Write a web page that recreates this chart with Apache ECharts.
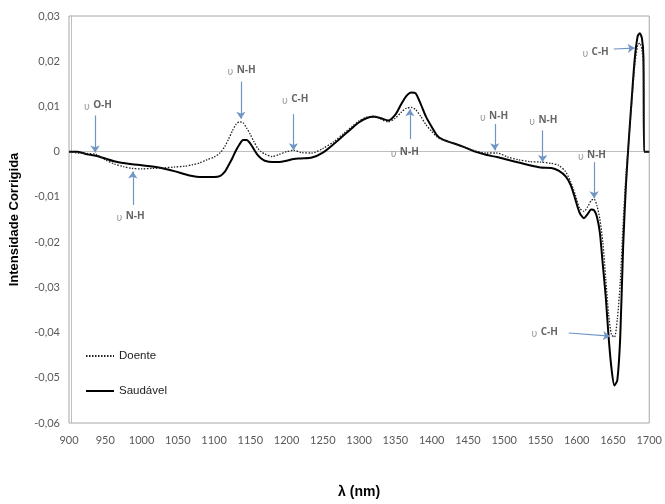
<!DOCTYPE html>
<html>
<head>
<meta charset="utf-8">
<script src="https://cdn.jsdelivr.net/npm/echarts@6/dist/echarts.min.js"></script>
<style>html,body{margin:0;padding:0;background:#fff}#c{width:665px;height:504px}</style>
</head>
<body>
<div id="c"></div>
<script>
// ---- data ----
const wavelengths = [900,912,925,937,950,962,975,987,1000,1015,1030,1045,1060,1070,1080,1090,1100,1108,1115,1120,1125,1130,1135,1140,1145,1150,1155,1160,1165,1170,1180,1190,1200,1210,1220,1235,1250,1265,1280,1290,1300,1310,1320,1330,1340,1350,1358,1365,1372,1378,1385,1392,1400,1408,1415,1425,1435,1445,1460,1475,1490,1505,1520,1535,1550,1565,1575,1585,1592,1598,1604,1610,1615,1620,1624,1628,1632,1636,1640,1644,1648,1652,1656,1660,1664,1668,1672,1676,1680,1684,1687,1690,1692,1693,1696,1700];
const saudavel = [0,0,-0.0006,-0.0009,-0.0015,-0.0021,-0.0025,-0.0028,-0.003,-0.0033,-0.0037,-0.0043,-0.005,-0.0054,-0.0056,-0.0056,-0.0056,-0.0054,-0.0044,-0.003,-0.0015,0.0002,0.0016,0.0026,0.0026,0.0018,0.0005,-0.0007,-0.0015,-0.002,-0.0023,-0.0023,-0.002,-0.0016,-0.0015,-0.0013,-0.0002,0.0017,0.0038,0.0052,0.0065,0.0074,0.0077,0.0074,0.0069,0.0082,0.0105,0.0123,0.0131,0.0129,0.0105,0.0078,0.0055,0.0035,0.0027,0.0021,0.0016,0.001,0,-0.0007,-0.0012,-0.0018,-0.0024,-0.003,-0.0035,-0.0036,-0.0042,-0.0055,-0.0075,-0.0105,-0.0135,-0.0147,-0.0138,-0.0128,-0.013,-0.0145,-0.018,-0.025,-0.032,-0.041,-0.048,-0.0517,-0.0505,-0.041,-0.021,-0.007,0.003,0.012,0.0205,0.0255,0.0262,0.025,0.021,0,0,0];
const doente = [0,-0.0003,-0.0004,-0.0006,-0.0018,-0.0027,-0.0033,-0.0037,-0.0038,-0.0037,-0.0036,-0.0034,-0.0032,-0.0029,-0.0025,-0.0018,-0.0012,-0.0003,0.0012,0.0028,0.0045,0.006,0.0066,0.0064,0.0052,0.0038,0.0022,0.0008,0,-0.0005,-0.0011,-0.0006,0,0.0003,-0.0002,-0.0003,0.0007,0.0022,0.0042,0.0055,0.0068,0.0076,0.0079,0.0072,0.0066,0.0074,0.0087,0.0096,0.0098,0.0093,0.0078,0.006,0.0045,0.0032,0.0026,0.0021,0.0016,0.001,0.0002,-0.0003,-0.0003,-0.0012,-0.0018,-0.0022,-0.0023,-0.0026,-0.003,-0.0045,-0.0068,-0.0095,-0.0125,-0.0132,-0.0122,-0.0108,-0.0105,-0.012,-0.015,-0.02,-0.028,-0.036,-0.0405,-0.041,-0.037,-0.029,-0.016,-0.005,0.003,0.011,0.019,0.0235,0.024,0.0225,0.019,0,0,0];

// annotations (data coordinates)
const annotText  = ['O-H','N-H','N-H','C-H','N-H','N-H','N-H','N-H','C-H','C-H'];
const annotLabel = [[940,0.0103],[985,-0.0142],[1138,0.0180],[1212,0.0117],[1363,0.0000],[1486,0.0079],[1554,0.0070],[1621,-0.0007],[1626,0.0221],[1556,-0.0399]];
const arrowFrom  = [[936,0.0080],[988,-0.0118],[1137,0.0155],[1209.5,0.0083],[1370,0.0028],[1487,0.0061],[1553,0.0047],[1624,-0.0023],[1651,0.0227],[1589,-0.0401]];
const arrowTo    = [[936,-0.0002],[988,-0.0044],[1137,0.0073],[1209.5,0.0003],[1370,0.0094],[1487,0.0003],[1553,-0.0023],[1624,-0.0103],[1680,0.0229],[1646,-0.0408]];

const chart = echarts.init(document.getElementById('c'), null, {renderer:'canvas'});
const tickFont = {color:'#595959', fontSize:11, fontFamily:'Lato, "Open Sans", sans-serif'};

chart.setOption({
  animation:false,
  backgroundColor:'#fff',
  grid:{left:66, right:14, top:16, bottom:78, show:true, borderColor:'#a6a6a6', borderWidth:1, backgroundColor:'transparent'},
  legend:{
    data:['Doente','Saudável'], orient:'vertical', left:80, top:345,
    itemWidth:28, itemHeight:14, itemGap:23,
    itemStyle:{opacity:0},
    textStyle:{color:'#222', fontSize:11.5, fontFamily:'"Liberation Sans", Arial, sans-serif'}
  },
  xAxis:{
    type:'value', min:900, max:1700, interval:50, offset:-2,
    axisLine:{show:true, lineStyle:{color:'#bfbfbf'}}, axisTick:{show:false}, splitLine:{show:false},
    axisLabel:Object.assign({margin:14, formatter:v=>String(Math.round(v))}, tickFont),
    name:'λ (nm)', nameLocation:'middle', nameGap:64,
    nameTextStyle:{color:'#000', fontSize:14, fontWeight:'bold', fontFamily:'"Liberation Sans", Arial, sans-serif'}
  },
  yAxis:{
    type:'value', min:-0.06, max:0.03, interval:0.01, offset:-2,
    axisLine:{show:true, lineStyle:{color:'#bfbfbf'}}, axisTick:{show:false}, splitLine:{show:false},
    axisLabel:Object.assign({margin:11, formatter:v=>{const r=Math.round(v*100)/100; return r===0?'0':r.toFixed(2).replace('.',',');}}, tickFont),
    name:'Intensidade Corrigida', nameLocation:'middle', nameRotate:90, nameGap:50,
    nameTextStyle:{color:'#000', fontSize:13, fontWeight:'bold', fontFamily:'"Liberation Sans", Arial, sans-serif'}
  },
  series:[
    {name:'Saudável', type:'line', data:wavelengths.map((w,i)=>[w,saudavel[i]]), symbol:'none', showSymbol:false, smooth:0.25,
     lineStyle:{color:'#000', width:2}, itemStyle:{color:'#000'}, z:3},
    {name:'Doente', type:'line', data:wavelengths.map((w,i)=>[w,doente[i]]), symbol:'none', showSymbol:false, smooth:0.25,
     lineStyle:{color:'#222', width:1.3, type:[1.5,1.5]}, itemStyle:{color:'#222'}, z:4},
    {name:'annot', type:'scatter', symbolSize:0, z:5, silent:true,
     data:annotLabel.map((p,i)=>({value:p, name:annotText[i]})),
     label:{show:true, position:'inside',
       formatter:p=>'{u|υ} {b|'+p.name+'}',
       rich:{
         u:{fontSize:10, color:'#7f7f7f', fontFamily:'"DejaVu Sans", sans-serif', padding:[5,0,0,0]},
         b:{fontSize:10, color:'#404040', fontWeight:'bold', fontFamily:'"Open Sans", Lato, sans-serif'}
       }},
     markLine:{silent:true, symbol:['none','arrow'], symbolSize:7, animation:false,
       lineStyle:{color:'#6f95c4', width:1.2, type:'solid'}, label:{show:false},
       data:arrowFrom.map((f,i)=>[{coord:f},{coord:arrowTo[i]}])}
    }
  ]
});
</script>
</body>
</html>
